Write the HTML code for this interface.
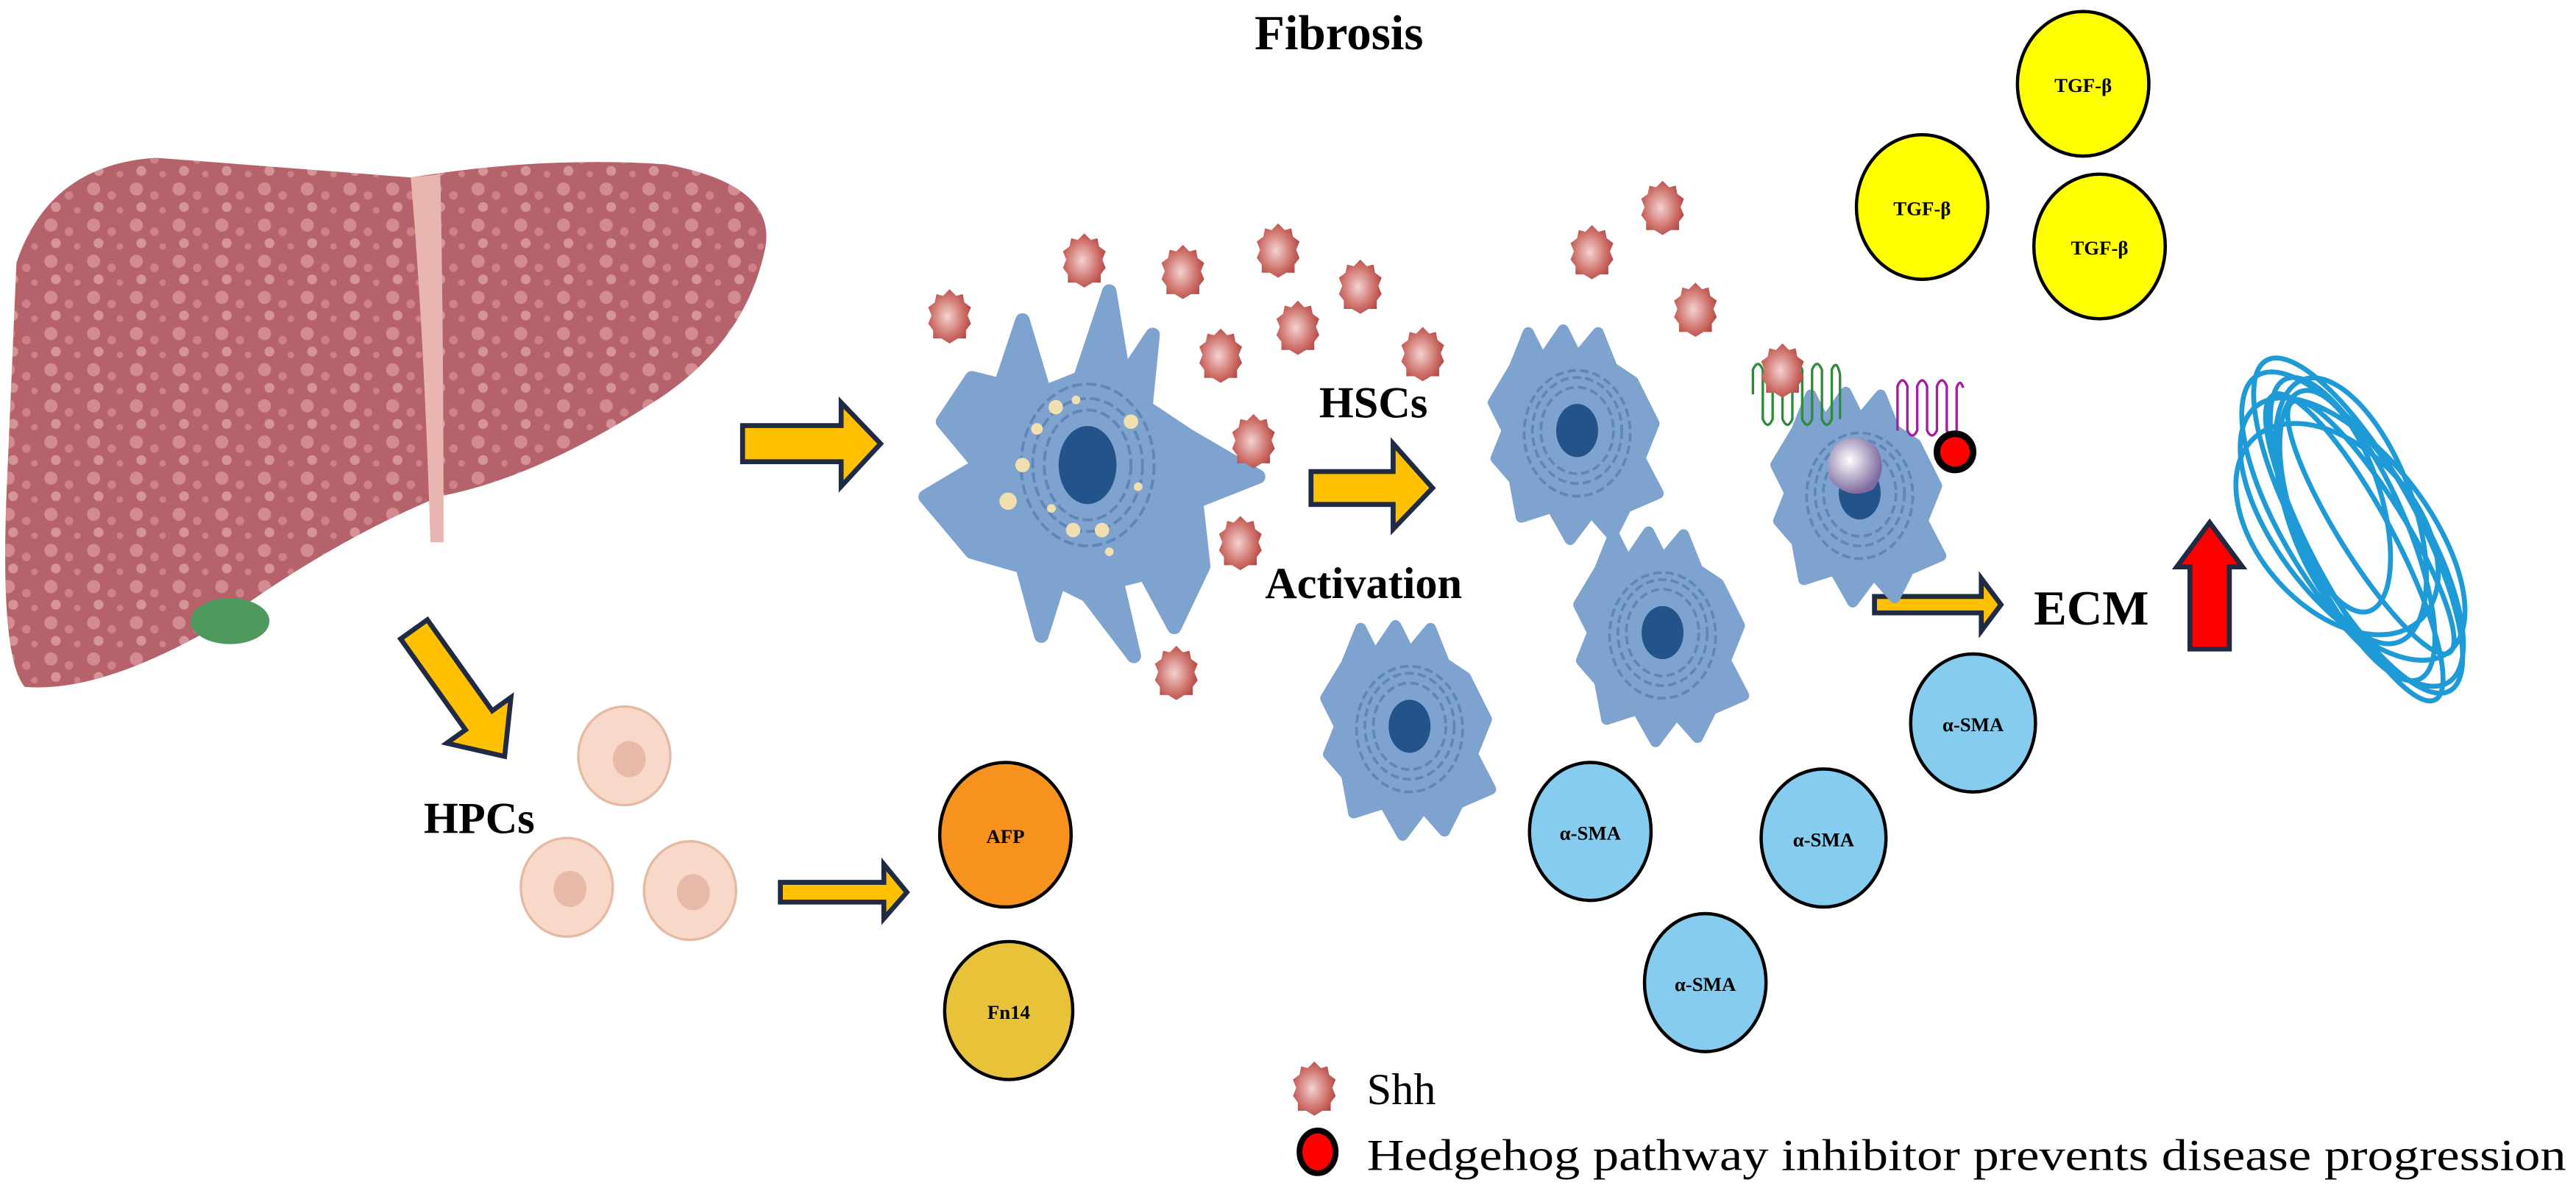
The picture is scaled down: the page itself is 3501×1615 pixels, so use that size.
<!DOCTYPE html>
<html><head><meta charset="utf-8"><style>html,body{margin:0;padding:0;background:#fff}svg{display:block}</style></head>
<body>
<svg width="3501" height="1615" viewBox="0 0 1568 723" preserveAspectRatio="none" xmlns="http://www.w3.org/2000/svg" font-family="'Liberation Serif',serif">
<defs>
<pattern id="sp" width="26" height="22" patternUnits="userSpaceOnUse">
<circle cx="5" cy="5" r="4" fill="#D9959A"/><circle cx="16" cy="9" r="2.6" fill="#D38A90"/><circle cx="8" cy="16" r="3" fill="#DDA0A4"/><circle cx="21" cy="18" r="2" fill="#D38A90"/>
</pattern>
<radialGradient id="shg" cx="0.45" cy="0.5" r="0.6"><stop offset="0" stop-color="#F3D3D0"/><stop offset="0.6" stop-color="#D0746E"/><stop offset="1" stop-color="#B0403C"/></radialGradient>
<radialGradient id="pg" cx="0.4" cy="0.4" r="0.6"><stop offset="0" stop-color="#fff"/><stop offset="1" stop-color="#7E6A9E"/></radialGradient>
<g id="shh"><path d="M0,-16 L4,-12 L8,-13 L9,-8 L13,-5 L11,0 L13,5 L10,9 L10,14 L5,14 L0,17 L-5,14 L-10,14 L-10,9 L-13,5 L-11,0 L-13,-5 L-9,-8 L-8,-13 L-4,-12 Z" fill="url(#shg)"/></g>
<g id="cell">
<path d="M-45,-45 L-35,-70 L-25,-50 L-10,-72 L0,-52 L15,-70 L25,-45 L40,-35 L55,-5 L45,20 L58,45 L35,55 L25,75 L10,58 L-5,78 L-18,55 L-40,62 L-45,35 L-58,20 L-50,0 L-60,-20 Z" fill="#7EA3CF" stroke="#7EA3CF" stroke-width="8" stroke-linejoin="round"/>
<g fill="none" stroke="#5F86B8" stroke-width="2" stroke-dasharray="6 3"><ellipse cx="0" cy="0" rx="32" ry="38"/><ellipse cx="0" cy="0" rx="26" ry="31"/><ellipse cx="0" cy="2" rx="38" ry="45"/></g>
<ellipse cx="0" cy="0" rx="15" ry="19" fill="#22538A"/>
</g>
</defs>

<text x="815" y="30" font-size="30" font-weight="bold" text-anchor="middle">Fibrosis</text>

<!-- liver -->
<path id="lv" d="M10,160 Q30,100 95,96 L250,108 Q330,95 405,100 Q472,112 466,150 Q455,205 405,240 Q330,290 268,302 Q200,330 130,382 Q60,422 15,418 Q0,400 4,300 Z" fill="#B6626A"/>
<path d="M10,160 Q30,100 95,96 L250,108 Q330,95 405,100 Q472,112 466,150 Q455,205 405,240 Q330,290 268,302 Q200,330 130,382 Q60,422 15,418 Q0,400 4,300 Z" fill="url(#sp)" opacity="0.8"/>
<path d="M250,108 Q258,200 262,330 L270,330 Q270,200 268,106 Z" fill="#E8B5B0"/>
<ellipse cx="140" cy="378" rx="24" ry="14" fill="#4E9A5E"/>

<!-- arrows -->
<g fill="#FFC000" stroke="#1F2A44" stroke-width="3" stroke-linejoin="miter">
<polygon points="452,259 512,259 512,245 536,270 512,296 512,281 452,281"/>
<polygon points="798,287 848,287 848,270 872,297 848,322 848,307 798,307"/>
<polygon points="1141,363 1206,363 1206,352 1218,368 1206,384 1206,373 1141,373"/>
<polygon points="475,537 538,537 538,526 552,543 538,559 538,549 475,549"/>
<polygon transform="translate(252,383) rotate(54.5)" points="0,-10 68,-10 68,-24 95,0 68,24 68,10 0,10"/>
</g>
<polygon points="1333,395 1333,345 1325,345 1345,318 1365,345 1357,345 1357,395" fill="#F00" stroke="#1F2A44" stroke-width="3"/>

<!-- big HSC -->
<g transform="translate(662,283) scale(0.88)">
<path d="M-80,-60 L-60,-55 L-45,-100 L-30,-50 L-5,-60 L15,-120 L25,-60 L45,-90 L40,-40 L70,-20 L118,8 L75,25 L80,70 L60,112 L40,75 L20,80 L32,132 L0,90 L-20,80 L-32,118 L-45,70 L-80,60 L-112,22 L-75,0 L-100,-30 Z" fill="#7EA3CF" stroke="#7EA3CF" stroke-width="10" stroke-linejoin="round"/>
<g fill="none" stroke="#5F86B8" stroke-width="2" stroke-dasharray="7 3"><ellipse rx="38" ry="46"/><ellipse rx="46" ry="56"/><ellipse rx="30" ry="38"/></g>
<ellipse cx="0" cy="0" rx="20" ry="27" fill="#22538A"/>
<g fill="#F2DFB0"><circle cx="-35" cy="-25" r="4"/><circle cx="-22" cy="-40" r="5"/><circle cx="-8" cy="-45" r="3"/><circle cx="30" cy="-30" r="5"/><circle cx="-45" cy="0" r="5"/><circle cx="-55" cy="25" r="6"/><circle cx="-25" cy="30" r="3"/><circle cx="-10" cy="45" r="5"/><circle cx="10" cy="45" r="5"/><circle cx="35" cy="15" r="3"/><circle cx="15" cy="60" r="3"/></g>
</g>

<!-- activated cells -->
<use href="#cell" transform="translate(960,262) scale(0.85)"/>
<use href="#cell" transform="translate(1132,300) scale(0.85)"/>
<use href="#cell" transform="translate(1012,385) scale(0.85)"/>
<use href="#cell" transform="translate(858,442) scale(0.85)"/>

<!-- receptors -->
<g fill="none" stroke-width="1.5">
<path d="M1067,240 L1067,225 Q1070,218 1073,225 L1073,255 Q1076,262 1079,255 L1079,225 Q1082,218 1085,225 L1085,255 Q1088,262 1091,255 L1091,225 Q1094,218 1097,225 L1097,255 Q1100,262 1103,255 L1103,225 Q1106,218 1109,225 L1109,255 Q1112,262 1115,255 L1115,225 Q1118,218 1120,228 L1120,255" stroke="#2E8B3A"/>
<path d="M1155,262 L1155,235 Q1158,228 1161,235 L1161,262 Q1164,268 1167,262 L1167,235 Q1170,228 1173,235 L1173,262 Q1176,268 1179,262 L1179,235 Q1182,228 1185,235 L1185,262 Q1188,268 1191,262 L1191,236 Q1193,230 1195,236" stroke="#A020A0"/>
</g>
<path d="M1118,270 Q1130,262 1142,272 Q1150,285 1140,298 Q1125,305 1114,292 Q1110,280 1118,270 Z" fill="url(#pg)"/>
<ellipse cx="1190" cy="275" rx="11" ry="11" fill="#F00" stroke="#000" stroke-width="4"/>

<!-- shh -->
<use href="#shh" transform="translate(578,192)"/><use href="#shh" transform="translate(660,158)"/>
<use href="#shh" transform="translate(720,165)"/><use href="#shh" transform="translate(778,152)"/>
<use href="#shh" transform="translate(828,174)"/><use href="#shh" transform="translate(790,199)"/>
<use href="#shh" transform="translate(743,216)"/><use href="#shh" transform="translate(866,215)"/>
<use href="#shh" transform="translate(763,268)"/><use href="#shh" transform="translate(755,330)"/>
<use href="#shh" transform="translate(716,409)"/><use href="#shh" transform="translate(969,153)"/>
<use href="#shh" transform="translate(1012,126)"/><use href="#shh" transform="translate(1032,188)"/>
<use href="#shh" transform="translate(1085,225)"/><use href="#shh" transform="translate(800,662)"/>

<!-- labels -->
<g font-weight="bold">
<text x="803" y="254" font-size="27">HSCs</text>
<text x="770" y="364" font-size="27">Activation</text>
<text x="1238" y="380" font-size="30">ECM</text>
<text x="258" y="507" font-size="27">HPCs</text>
</g>

<g stroke="#000" stroke-width="2">
<ellipse cx="1268" cy="51" rx="40" ry="44" fill="#FFFF00"/>
<ellipse cx="1170" cy="126" rx="40" ry="44" fill="#FFFF00"/>
<ellipse cx="1278" cy="150" rx="40" ry="44" fill="#FFFF00"/>
<ellipse cx="612" cy="508" rx="40" ry="44" fill="#F7921E"/>
<ellipse cx="614" cy="615" rx="39" ry="42" fill="#E8C33A"/>
<ellipse cx="968" cy="506" rx="37" ry="42" fill="#85CCEE"/>
<ellipse cx="1110" cy="510" rx="38" ry="42" fill="#85CCEE"/>
<ellipse cx="1201" cy="440" rx="38" ry="42" fill="#85CCEE"/>
<ellipse cx="1038" cy="598" rx="37" ry="42" fill="#85CCEE"/>
</g>
<g font-size="12" font-weight="bold" text-anchor="middle">
<text x="1268" y="56">TGF-β</text><text x="1170" y="131">TGF-β</text><text x="1278" y="155">TGF-β</text>
<text x="612" y="513">AFP</text><text x="614" y="620">Fn14</text>
<text x="968" y="511">α-SMA</text><text x="1110" y="515">α-SMA</text><text x="1201" y="445">α-SMA</text><text x="1038" y="603">α-SMA</text>
</g>

<!-- HPC cells -->
<g fill="#F8D8C8" stroke="#E6B9A3" stroke-width="1.5">
<ellipse cx="380" cy="460" rx="28" ry="30"/><ellipse cx="345" cy="540" rx="28" ry="30"/><ellipse cx="420" cy="542" rx="28" ry="30"/>
</g>
<g fill="#E6B9A8"><ellipse cx="383" cy="462" rx="10" ry="11"/><ellipse cx="347" cy="541" rx="10" ry="11"/><ellipse cx="422" cy="543" rx="10" ry="11"/></g>

<!-- fibers -->
<g fill="none" stroke="#1E9BD7" stroke-width="3">
<g transform="translate(1432,322) rotate(58)">
<ellipse rx="110" ry="40"/><ellipse rx="100" ry="32" transform="rotate(8)"/><ellipse rx="95" ry="45" transform="rotate(-6)"/>
<ellipse rx="105" ry="25" transform="translate(10,5) rotate(4)"/><ellipse rx="85" ry="38" transform="translate(-10,-5) rotate(12)"/>
<ellipse rx="90" ry="20" transform="translate(5,-10)"/><ellipse rx="75" ry="48" transform="translate(-5,8) rotate(-10)"/>
<ellipse rx="115" ry="35" transform="translate(0,-4) rotate(3)"/><ellipse rx="70" ry="28" transform="translate(-20,0) rotate(15)"/>
</g>
</g>

<!-- legend -->
<text x="832" y="672" font-size="27">Shh</text>
<ellipse cx="802" cy="701" rx="11" ry="13" fill="#F00" stroke="#000" stroke-width="3.5"/>
<text x="832" y="712" font-size="27" textLength="730" lengthAdjust="spacingAndGlyphs">Hedgehog pathway inhibitor prevents disease progression</text>
</svg>
</body></html>
